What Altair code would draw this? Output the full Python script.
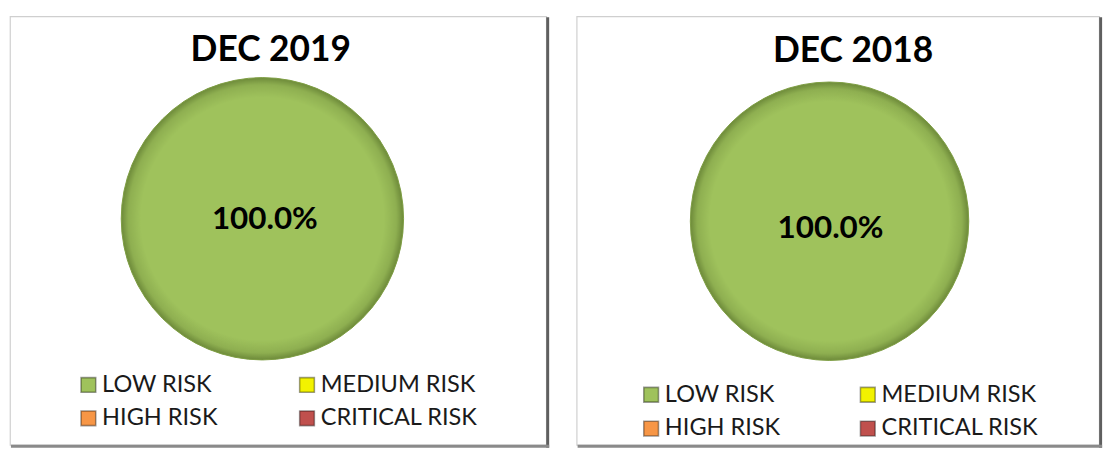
import altair as alt
import pandas as pd

# ---- data -------------------------------------------------------------
categories = ["LOW RISK", "MEDIUM RISK", "HIGH RISK", "CRITICAL RISK"]
colors = ["#9FC25C", "#F2F200", "#F79646", "#C0504D"]
values_2019 = [100.0, 0.0, 0.0, 0.0]
values_2018 = [100.0, 0.0, 0.0, 0.0]
panel_titles = ["DEC 2019", "DEC 2018"]

FONT = "Lato"


def panel(title, values, w, h, cx, cy, r, lx, ly, tx, tbase, legx, legy, colpad, rowpad):
    df = pd.DataFrame({"risk": categories, "value": values,
                       "order": list(range(len(categories)))})
    base = alt.Chart(df)
    theta = alt.Theta("value:Q", stack=True)
    order = alt.Order("order:Q")

    color = alt.Color(
        "risk:N",
        scale=alt.Scale(domain=categories, range=colors),
        legend=alt.Legend(
            title=None, orient="none", legendX=legx, legendY=legy,
            direction="horizontal", columns=2,
            symbolType="square", symbolSize=225,
            symbolStrokeWidth=1.6, symbolStrokeColor="rgba(0,0,0,0.38)",
            labelFont=FONT, labelFontSize=24, labelColor="#1a1a1a",
            labelOffset=2, rowPadding=rowpad, columnPadding=colpad,
            labelLimit=300,
        ),
    )

    pie = base.mark_arc(radius=r, strokeWidth=0).encode(
        theta=theta, color=color, order=order,
        x=alt.value(cx), y=alt.value(cy),
    )

    shade = base.transform_filter("datum.value > 0").mark_arc(
        radius=r, stroke="#7E9E44", strokeWidth=1,
        fill=alt.Gradient(
            gradient="radial",
            stops=[
                alt.GradientStop(offset=0, color="rgba(40,60,10,0)"),
                alt.GradientStop(offset=0.86, color="rgba(40,60,10,0)"),
                alt.GradientStop(offset=0.95, color="rgba(40,60,10,0.14)"),
                alt.GradientStop(offset=1, color="rgba(40,60,10,0.42)"),
            ],
            x1=0.5, y1=0.5, r1=0, x2=0.5, y2=0.5, r2=0.5,
        ),
    ).encode(theta=theta, order=order, x=alt.value(cx), y=alt.value(cy))

    label = base.transform_joinaggregate(
        total="sum(value)"
    ).transform_calculate(
        pct="datum.value / datum.total"
    ).transform_filter(
        "datum.pct > 0"
    ).mark_text(
        font=FONT, fontSize=32, fontWeight="bold", color="#000000"
    ).encode(
        text=alt.Text("pct:Q", format=".1%"),
        x=alt.value(lx), y=alt.value(ly),
    )

    one = alt.Chart(pd.DataFrame({"title": [title]}))
    heading = one.mark_text(
        font=FONT, fontSize=36, fontWeight="bold", color="#000000",
        align="center", baseline="alphabetic",
    ).encode(text="title:N", x=alt.value(tx), y=alt.value(tbase))

    right = one.mark_rule(color="#5f5f5f", strokeWidth=3).encode(
        x=alt.value(w + 1.5), y=alt.value(1), y2=alt.value(h + 3)
    )
    bottom = one.mark_rule(color="#8a8a8a", strokeWidth=3).encode(
        y=alt.value(h + 1.5), x=alt.value(1), x2=alt.value(w + 3)
    )

    return alt.layer(pie, shade, label, heading, right, bottom).properties(
        width=w, height=h,
    )


left = panel(panel_titles[0], values_2019, 547, 437, 257.5, 206.5, 144,
             260, 207, 266, 46, 68, 364, 79, 10)
right = panel(panel_titles[1], values_2018, 533, 437, 258, 209, 142,
              259, 216, 282, 47, 64, 374, 77, 10.5)

chart = alt.hconcat(left, right, spacing=23).resolve_scale(
    color="independent"
).resolve_legend(
    color="independent"
).properties(
    padding={"left": 0, "top": 2, "right": 2, "bottom": 2},
    background="#ffffff",
).configure_view(stroke="#CFCFCF", strokeWidth=1.2)

chart.save("out.html", embed_options={"renderer": "svg", "actions": False})
